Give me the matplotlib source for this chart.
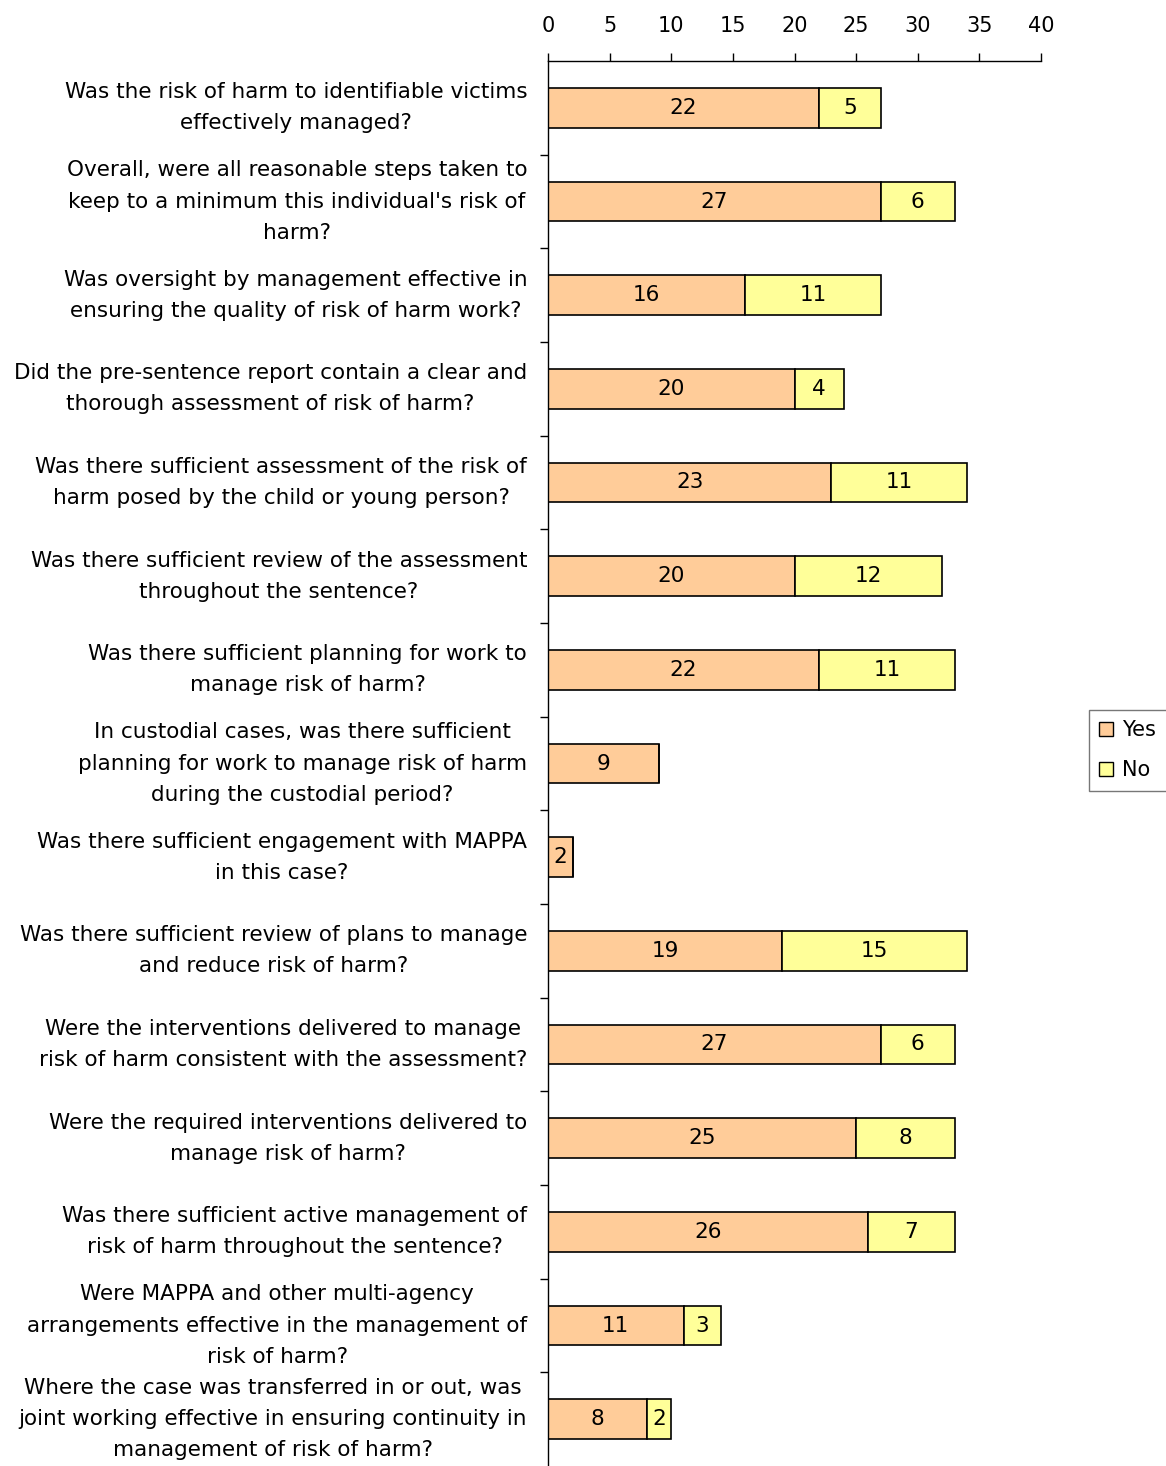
import numpy as np
import matplotlib.pyplot as plt
from matplotlib.patches import Patch

# data
questions = [
    "Was the risk of harm to identifiable victims\neffectively managed?",
    "Overall, were all reasonable steps taken to\nkeep to a minimum this individual's risk of\nharm?",
    "Was oversight by management effective in\nensuring the quality of risk of harm work?",
    "Did the pre-sentence report contain a clear and\nthorough assessment of risk of harm?",
    "Was there sufficient assessment of the risk of\nharm posed by the child or young person?",
    "Was there sufficient review of the assessment\nthroughout the sentence?",
    "Was there sufficient planning for work to\nmanage risk of harm?",
    "In custodial cases, was there sufficient\nplanning for work to manage risk of harm\nduring the custodial period?",
    "Was there sufficient engagement with MAPPA\nin this case?",
    "Was there sufficient review of plans to manage\nand reduce risk of harm?",
    "Were the interventions delivered to manage\nrisk of harm consistent with the assessment?",
    "Were the required interventions delivered to\nmanage risk of harm?",
    "Was there sufficient active management of\nrisk of harm throughout the sentence?",
    "Were MAPPA and other multi-agency\narrangements effective in the management of\nrisk of harm?",
    "Where the case was transferred in or out, was\njoint working effective in ensuring continuity in\nmanagement of risk of harm?",
]
yes = [22, 27, 16, 20, 23, 20, 22, 9, 2, 19, 27, 25, 26, 11, 8]
no = [5, 6, 11, 4, 11, 12, 11, 0, 0, 15, 6, 8, 7, 3, 2]
xticks = [0, 5, 10, 15, 20, 25, 30, 35, 40]

plt.rcParams['font.family'] = ['DejaVu Sans']

fig = plt.figure(figsize=(11.66, 14.66), dpi=100)
ax = fig.add_axes([548/1166, 0.0, (1041-548)/1166, 1 - 61/1466])

y = np.arange(len(questions))
b1 = ax.barh(y, yes, height=0.42, color='#FFCC99', edgecolor='black', linewidth=1.2)
b2 = ax.barh(y, no, left=yes, height=0.42, color='#FFFF99', edgecolor='black', linewidth=1.2)

# zero values get no label
ax.bar_label(b1, labels=[str(v) if v else '' for v in yes], label_type='center', fontsize=15.5)
ax.bar_label(b2, labels=[str(v) if v else '' for v in no], label_type='center', fontsize=15.5)

ax.set_xlim(0, 40)
ax.set_ylim(len(questions) - 0.5, -0.5)
ax.xaxis.tick_top()
ax.set_xticks(xticks)
ax.tick_params(axis='x', direction='out', length=6, width=1, pad=12, labelsize=15)

ax.set_yticks(y)
ax.set_yticklabels(questions, fontsize=15.5, linespacing=1.7)
for lab in ax.get_yticklabels():
    lab.set_multialignment('center')
    lab.set_verticalalignment('center')
ax.tick_params(axis='y', which='major', length=0, pad=15)
ax.set_yticks(np.arange(len(questions) - 1) + 0.5, minor=True)
ax.tick_params(axis='y', which='minor', direction='out', length=6, width=1)

ax.spines['right'].set_visible(False)
ax.spines['bottom'].set_visible(False)
ax.spines['top'].set_linewidth(1)
ax.spines['left'].set_linewidth(1)

handles = [Patch(facecolor='#FFCC99', edgecolor='black', label='Yes'),
           Patch(facecolor='#FFFF99', edgecolor='black', label='No')]
leg = fig.legend(handles=handles, loc='upper left', bbox_to_anchor=(1089/1166, 1 - 710/1466),
                 fontsize=15, frameon=True, fancybox=False, handlelength=0.65, handleheight=0.65,
                 handletextpad=0.45, borderpad=0.5, labelspacing=0.95, borderaxespad=0)
leg.get_frame().set_edgecolor('#555555')
leg.get_frame().set_linewidth(1)

fig.savefig('out.png', dpi=100)
